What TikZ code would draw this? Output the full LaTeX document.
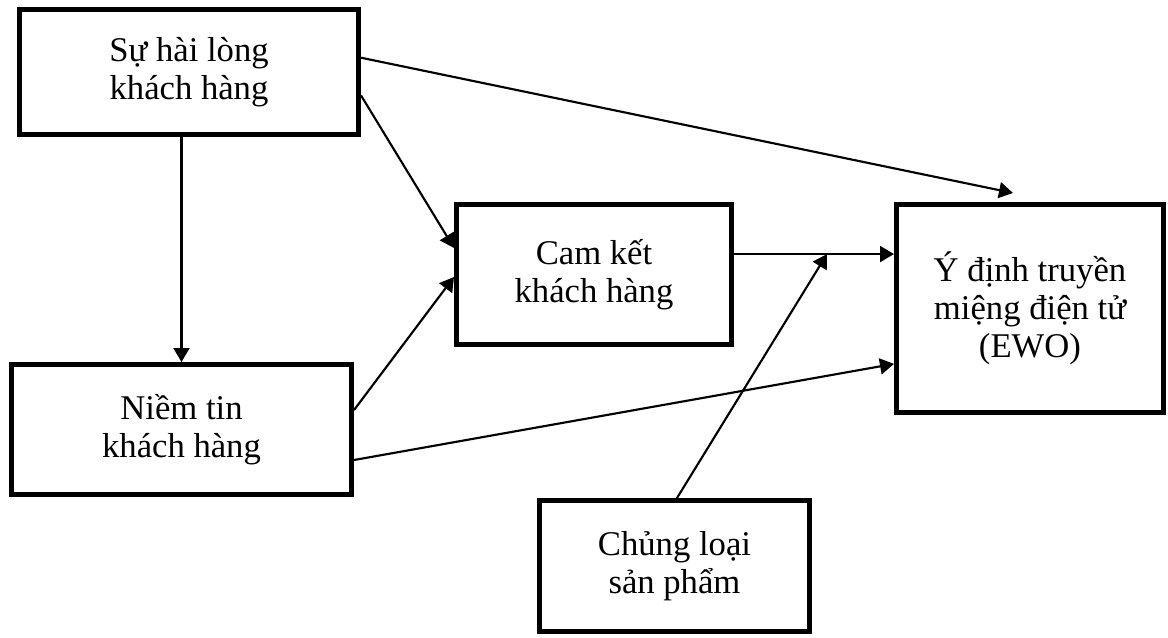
\documentclass[tikz,border=0pt]{standalone}
\usepackage{fontspec}
\setmainfont{Liberation Serif}
\usetikzlibrary{arrows.meta,calc}
\begin{document}
\begin{tikzpicture}[x=0.75pt,y=-0.75pt,
  box/.style={draw, line width=4pt, inner sep=0pt, align=center,
    font=\fontsize{26}{28.5}\selectfont},
  % outer size of a box, in px
  sz/.style 2 args={minimum width=#1*0.75pt-4pt, minimum height=#2*0.75pt-4pt},
  arr/.style={line width=1.6pt, -{Triangle[length=10.5pt,width=12pt]}}]
\useasboundingbox (0,0) rectangle (1168,637);

% variable boxes
\node[box, sz={344}{130}] (sat) at (189,72)     {Sự hài lòng\\khách hàng};
\node[box, sz={280}{145}] (com) at (594,274.5)  {Cam kết\\khách hàng};
\node[box, sz={272}{213}] (ewo) at (1030,308.5) {Ý định truyền\\miệng điện tử\\(EWO)};
\node[box, sz={345}{135}] (tru) at (181.5,429.5){Niềm tin\\khách hàng};
\node[box, sz={275}{136}] (typ) at (674.5,566)  {Chủng loại\\sản phẩm};

% free end of the direct satisfaction path, and junction on the commitment path
\coordinate (top) at (1013,193);
\coordinate (out) at ($(com.north east)!0.359!(com.south east)$);
\coordinate (mod) at (827,0 |- out);

\draw[arr] ($(sat.north east)!0.39!(sat.south east)$) -- (top);
\draw[arr] ($(sat.north east)!0.68!(sat.south east)$) -- ($(com.north west)!0.317!(com.south west)$);
\draw[arr] (tru.north |- sat.south) -- (tru.north);
\draw[arr] ($(tru.north east)!0.356!(tru.south east)$) -- ($(com.north west)!0.517!(com.south west)$);
\draw[arr] ($(tru.north east)!0.726!(tru.south east)$) -- ($(ewo.north west)!0.76!(ewo.south west)$);
\draw[arr] (out) -- (ewo.west |- out);
\draw[arr] ($(typ.north)+(2.5,0)$) -- (mod);
\end{tikzpicture}
\end{document}
